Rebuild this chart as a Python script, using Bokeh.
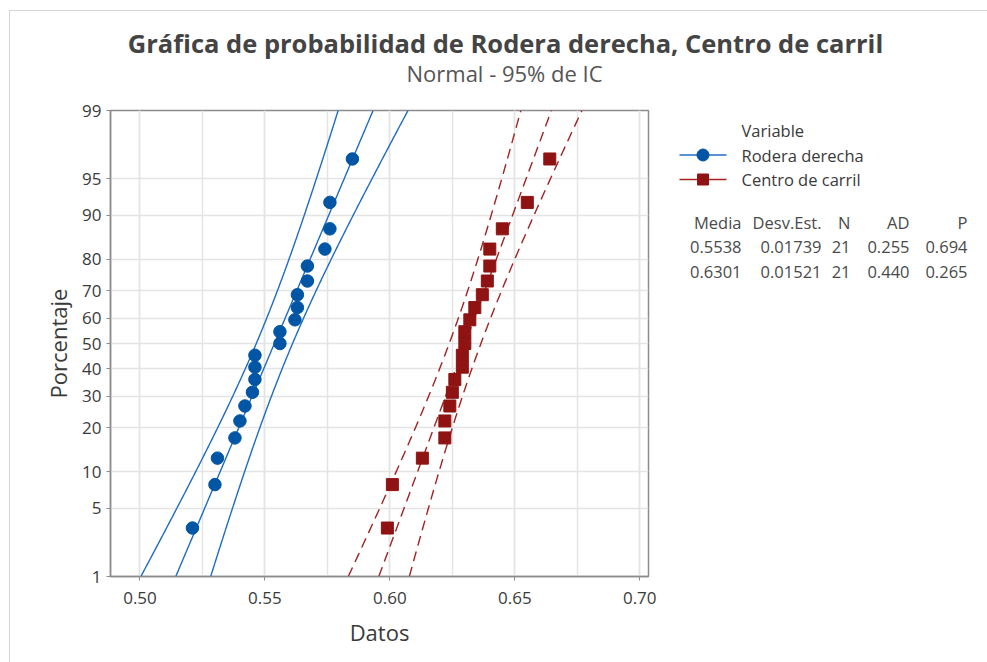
import math
from statistics import NormalDist
from bokeh.plotting import figure
from bokeh.layouts import column, row
from bokeh.models import Range1d, FixedTicker, SingleIntervalTicker, NumeralTickFormatter
from bokeh.core.properties import value
from bokeh.embed import file_html
from bokeh.resources import INLINE

# ---------------- data ----------------
series_names = ["Rodera derecha", "Centro de carril"]
rodera = [0.521, 0.530, 0.531, 0.538, 0.540, 0.542, 0.545, 0.546, 0.546, 0.546,
          0.556, 0.556, 0.562, 0.563, 0.563, 0.567, 0.567, 0.574, 0.576, 0.576, 0.585]
centro = [0.599, 0.601, 0.613, 0.622, 0.622, 0.624, 0.625, 0.626, 0.629, 0.629,
          0.630, 0.630, 0.632, 0.634, 0.637, 0.639, 0.640, 0.640, 0.645, 0.655, 0.664]
media = [0.5538, 0.6301]
desv = [0.01739, 0.01521]
n_vals = [21, 21]
ad_vals = [0.255, 0.440]
p_vals = [0.694, 0.265]
y_tick_pct = [1, 5, 10, 20, 30, 40, 50, 60, 70, 80, 90, 95, 99]
table_headers = ["Media", "Desv.Est.", "N", "AD", "P"]

title_text = "Gráfica de probabilidad de Rodera derecha, Centro de carril"
subtitle_text = "Normal - 95% de IC"
x_label = "Datos"
y_label = "Porcentaje"
legend_title = "Variable"

# ---------------- styles ----------------
FONT = "Open Sans"
BLUE_PT = "#0055a5"
BLUE_LN = "#1f6cc4"
RED_PT = "#8f1313"
RED_LN = "#a32222"
TXT = "#3a3a3a"
GRAY_AX = "#8c8c8c"
GRID = "#e4e4e4"
PAGE_LINE = "#d6d6d6"

nd = NormalDist()


def zq(p):
    return nd.inv_cdf(p)


# page geometry (pixels); content starts at page (10, 11) after the border
OX, OY = 10, 11
W, H = 987, 662
TOP_H = 100 - OY
FL, FT, FW, FH = 110, 110, 538, 466
MAIN_W = (FL - OX) + FW + 10
MAIN_H = H - 100
PR_DY = 11  # measured vertical offset of the right-hand panel
x0, x1 = 0.4882, 0.7035
z0, z1 = zq(0.01), zq(0.99)


def blank(width, height, xr, yr):
    f = figure(output_backend="svg", toolbar_location=None, title=None,
               frame_width=width, frame_height=height,
               x_range=Range1d(*xr), y_range=Range1d(*yr),
               min_border_left=0, min_border_right=0,
               min_border_top=0, min_border_bottom=0,
               x_axis_type=None, y_axis_type=None)
    f.grid.visible = False
    f.outline_line_color = None
    f.background_fill_color = "white"
    f.border_fill_color = "white"
    return f


# ---------------- title strip ----------------
pt = blank(W - OX, TOP_H, (OX, W), (100, OY))
pt.text(x=[505], y=[42], text=[title_text], text_align="center", text_baseline="middle",
        text_font=value(FONT), text_font_size="25.5px", text_font_style="bold",
        text_color="#444444")
pt.text(x=[504], y=[72], text=[subtitle_text], text_align="center", text_baseline="middle",
        text_font=value(FONT), text_font_size="22px", text_color="#555555")

# ---------------- main plot ----------------
p = figure(output_backend="svg", toolbar_location=None, title=None,
           frame_width=FW, frame_height=FH,
           min_border_left=FL - OX, min_border_top=FT - 100,
           min_border_right=10, min_border_bottom=H - FT - FH,
           x_range=Range1d(x0, x1), y_range=Range1d(z0, z1),
           background_fill_color="white", border_fill_color="white")
p.outline_line_color = GRAY_AX
p.outline_line_width = 1.5

p.xaxis.ticker = SingleIntervalTicker(interval=0.05, num_minor_ticks=2)
p.xaxis.formatter = NumeralTickFormatter(format="0.00")
y_ticks = [zq(v / 100) for v in y_tick_pct]
p.yaxis.ticker = FixedTicker(ticks=y_ticks)
p.yaxis.major_label_overrides = {t: str(v) for t, v in zip(y_ticks, y_tick_pct)}
for ax in (p.xaxis[0], p.yaxis[0]):
    ax.axis_line_color = GRAY_AX
    ax.axis_line_width = 1.5
    ax.major_tick_line_color = GRAY_AX
    ax.major_tick_in = 0
    ax.major_tick_out = 4
    ax.minor_tick_line_color = None
    ax.major_label_text_font = FONT
    ax.major_label_text_font_size = "17px"
    ax.major_label_text_color = TXT
    ax.axis_label_text_font = FONT
    ax.axis_label_text_font_size = "22px"
    ax.axis_label_text_font_style = "normal"
    ax.axis_label_text_color = TXT
p.xaxis.axis_label = x_label
p.yaxis.axis_label = y_label
p.xaxis.major_label_standoff = 11
p.xaxis.axis_label_standoff = 10
p.yaxis.major_label_standoff = 5
p.yaxis.axis_label_standoff = 6

p.xgrid.grid_line_color = GRID
p.xgrid.grid_line_width = 1.5
p.xgrid.minor_grid_line_color = GRID
p.xgrid.minor_grid_line_width = 1.5
p.ygrid.ticker = FixedTicker(ticks=y_ticks)
p.ygrid.grid_line_color = GRID
p.ygrid.grid_line_width = 1.5

nz = 240
zs = [z0 + k * (z1 - z0) / nz for k in range(nz + 1)]
datasets = [rodera, centro]
pt_colors = [BLUE_PT, RED_PT]
ln_colors = [BLUE_LN, RED_LN]
dashes = ["solid", "10 6"]
markers = ["circle", "square"]
pt_sizes = [12.5, 12]
for k, data in enumerate(datasets):
    n = n_vals[k]
    mu = media[k]
    sig = desv[k] * math.sqrt((n - 1) / n)
    center = [mu + z * sig for z in zs]
    se = [sig * math.sqrt(1 / n + z * z / (2 * n)) for z in zs]
    lo = [c - 1.959964 * s for c, s in zip(center, se)]
    hi = [c + 1.959964 * s for c, s in zip(center, se)]
    for xs in (lo, center, hi):
        p.line(xs, zs, line_color=ln_colors[k], line_width=1.4, line_dash=dashes[k])
    srt = sorted(data)
    ys = [zq((i + 1 - 0.3) / (len(srt) + 0.4)) for i in range(len(srt))]
    p.scatter(srt, ys, marker=markers[k], size=pt_sizes[k],
              fill_color=pt_colors[k], line_color=pt_colors[k], line_width=1)

# ---------------- right panel: legend + table ----------------
RX0 = OX + MAIN_W
pr = blank(W - RX0, MAIN_H, (RX0, W), (H + PR_DY, 100 + PR_DY))

# legend (keys in panel pixel coordinates)
LEG_X0, LEG_X1, LEG_TXT = 679, 726, 741
LEG_Y = [155.5, 180]
pr.text(x=[LEG_TXT], y=[131], text=[legend_title], text_align="left",
        text_baseline="middle", text_font=value(FONT), text_font_size="16.5px",
        text_color=TXT)
for k in range(2):
    pr.line([LEG_X0, LEG_X1], [LEG_Y[k], LEG_Y[k]], line_color=ln_colors[k], line_width=1.6)
    pr.scatter([(LEG_X0 + LEG_X1) / 2], [LEG_Y[k]], marker=markers[k],
               size=[12, 11][k], fill_color=pt_colors[k], line_color=pt_colors[k])
pr.text(x=[LEG_TXT, LEG_TXT], y=LEG_Y, text=series_names, text_align="left",
        text_baseline="middle", text_font=value(FONT), text_font_size="16.5px",
        text_color=TXT)

# statistics table
col_right = [741, 821, 850, 909, 967]
row_y = [223, 247, 272]
rows = [table_headers]
for k in range(2):
    rows.append([f"{media[k]:.4f}", f"{desv[k]:.5f}", f"{n_vals[k]}",
                 f"{ad_vals[k]:.3f}", f"{p_vals[k]:.3f}"])
tx, ty, tt = [], [], []
for r, rw in enumerate(rows):
    for c, txt in enumerate(rw):
        tx.append(col_right[c])
        ty.append(row_y[r])
        tt.append(txt)
pr.text(x=tx, y=ty, text=tt, text_align="right", text_baseline="middle",
        text_font=value(FONT), text_font_size="16.5px", text_color="#4a4a4a")

layout = column(pt, row(p, pr, spacing=0), spacing=0, margin=(OY - 1, 0, 0, OX - 1),
                styles={"border-top": f"1px solid {PAGE_LINE}",
                        "border-left": f"1px solid {PAGE_LINE}"})

open("out.html", "w").write(file_html(layout, INLINE))
